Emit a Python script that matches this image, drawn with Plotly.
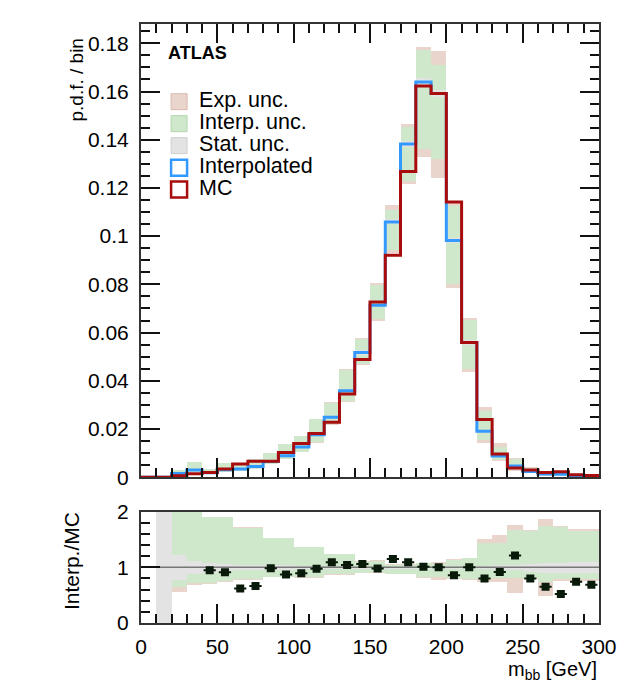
import plotly.graph_objects as go

# ---------------- data ----------------
bin_edges = list(range(0, 310, 10))
bin_centers = [e + 5 for e in bin_edges[:-1]]

mc = [0, 0, 0.0006, 0.0014, 0.0019, 0.0034, 0.0055, 0.0066, 0.0066, 0.0102,
      0.0140, 0.0181, 0.0228, 0.0345, 0.0488, 0.0727, 0.0921, 0.1268, 0.1623, 0.1592,
      0.1142, 0.0559, 0.0239, 0.0096, 0.0038, 0.0030, 0.0020, 0.0023, 0.0010, 0.0007]
interp = [0, 0, 0.0015, 0.0030, 0.0018, 0.0031, 0.0034, 0.0044, 0.0065, 0.0089,
          0.0125, 0.0176, 0.0249, 0.0359, 0.0517, 0.0713, 0.1059, 0.1382, 0.1639, 0.1592,
          0.0982, 0.0559, 0.0191, 0.0088, 0.0046, 0.0024, 0.0013, 0.0012, 0.00074, 0.00048]

# relative uncertainty bands (ratio to nominal)
interp_unc_lo = [None, None, 0.66, 0.72, 0.72, 0.76, 0.79, 0.79, 0.84, 0.84,
                 0.83, 0.83, 0.88, 0.88, 0.91, 0.92, 0.89, 0.89, 0.83, 0.83,
                 0.815, 0.80, 0.80, 0.82, 0.82, 0.82, 0.75, 0.79, 0.79, 0.79]
interp_unc_hi = [None, None, 2.1, 2.05, 1.91, 1.91, 1.72, 1.72, 1.53, 1.53,
                 1.37, 1.37, 1.24, 1.24, 1.11, 1.12, 1.045, 1.05, 1.08, 1.075,
                 1.145, 1.17, 1.44, 1.44, 1.68, 1.65, 1.74, 1.73, 1.65, 1.65]
exp_unc_lo = [None, None, 0.57, 0.69, 0.70, 0.75, 0.78, 0.78, 0.83, 0.83,
              0.82, 0.81, 0.87, 0.87, 0.90, 0.91, 0.88, 0.88, 0.81, 0.78,
              0.80, 0.78, 0.75, 0.75, 0.54, 0.79, 0.50, 0.76, 0.76, 0.76]
exp_unc_hi = [None, None, 2.1, 2.05, 1.91, 1.91, 1.73, 1.73, 1.54, 1.54,
              1.38, 1.38, 1.25, 1.25, 1.12, 1.13, 1.067, 1.06, 1.09, 1.11,
              1.16, 1.18, 1.52, 1.59, 1.76, 1.68, 1.87, 1.74, 1.69, 1.69]
stat_unc = [None, 1.5, 0.22, 0.12, 0.09, 0.06, 0.05, 0.05, 0.04, 0.04,
            0.03, 0.03, 0.02, 0.02, 0.02, 0.01, 0.01, 0.01, 0.01, 0.01,
            0.01, 0.02, 0.03, 0.04, 0.05, 0.07, 0.09, 0.09, 0.10, 0.10]

legend_names = ["Exp. unc.", "Interp. unc.", "Stat. unc.", "Interpolated", "MC"]

# ---------------- styles ----------------
FONT = "Liberation Sans"
C_EXP = "#ead5cd"
C_INT = "#cfe7cb"
C_STAT = "#e3e3e3"
C_BLUE = "#3399ff"
C_RED = "#a80c0c"
C_PT = "#0a1a0a"
BIN_W = 10


def band(nom, lo, hi):
    base, height = [], []
    for n, l, h in zip(nom, lo, hi):
        if l is None or h is None:
            base.append(None); height.append(None)
        else:
            base.append(n * l); height.append(n * (h - l))
    return base, height


def stat_band(nom, s):
    lo = [None if v is None else 1 - v for v in s]
    hi = [None if v is None else 1 + v for v in s]
    return band(nom, lo, hi)


def lname(t):
    return '<span style="font-size:21.5px">' + t + '</span>'


ones = [1.0] * len(bin_centers)
fig = go.Figure()

# ---- top panel bands ----
for (lo, hi, col) in [(exp_unc_lo, exp_unc_hi, C_EXP), (interp_unc_lo, interp_unc_hi, C_INT)]:
    b, h = band(interp, lo, hi)
    fig.add_trace(go.Bar(x=bin_centers, y=h, base=b, width=BIN_W, showlegend=False,
                         marker=dict(color=col, line=dict(width=0)), xaxis="x", yaxis="y"))
b, h = stat_band(interp, stat_unc)
fig.add_trace(go.Bar(x=bin_centers, y=h, base=b, width=BIN_W, showlegend=False,
                     marker=dict(color=C_STAT, line=dict(width=0)), xaxis="x", yaxis="y"))

# ---- histograms (step lines) ----
fig.add_trace(go.Scatter(x=bin_edges, y=interp + [interp[-1]], mode="lines", line_shape="hv",
                         line=dict(color=C_BLUE, width=3), showlegend=False,
                         xaxis="x", yaxis="y"))
fig.add_trace(go.Scatter(x=bin_edges, y=mc + [mc[-1]], mode="lines", line_shape="hv",
                         line=dict(color=C_RED, width=3), showlegend=False,
                         xaxis="x", yaxis="y"))

# ---- legend entries (box style) ----
legend_styles = [
    dict(color=C_EXP, line=dict(color="#d9b9ad", width=1)),
    dict(color=C_INT, line=dict(color="#b3d6ae", width=1)),
    dict(color=C_STAT, line=dict(color="#cfcfcf", width=1)),
    dict(color="white", line=dict(color=C_BLUE, width=2.5)),
    dict(color="white", line=dict(color=C_RED, width=2.5)),
]
for k, (nm, st) in enumerate(zip(legend_names, legend_styles)):
    fig.add_trace(go.Scatter(x=[None], y=[None], mode="markers", name=lname(nm),
                             marker=dict(symbol="square", size=16, **st),
                             legendrank=k + 1, xaxis="x", yaxis="y"))

# ---- ratio panel ----
b, h = band(ones, exp_unc_lo, exp_unc_hi)
fig.add_trace(go.Bar(x=bin_centers, y=h, base=b, width=BIN_W, showlegend=False,
                     marker=dict(color=C_EXP, line=dict(width=0)), xaxis="x2", yaxis="y2"))
b, h = band(ones, interp_unc_lo, interp_unc_hi)
fig.add_trace(go.Bar(x=bin_centers, y=h, base=b, width=BIN_W, showlegend=False,
                     marker=dict(color=C_INT, line=dict(width=0)), xaxis="x2", yaxis="y2"))
b, h = stat_band(ones, stat_unc)
fig.add_trace(go.Bar(x=bin_centers, y=h, base=b, width=BIN_W, showlegend=False,
                     marker=dict(color=C_STAT, line=dict(width=0)), xaxis="x2", yaxis="y2"))

fig.add_trace(go.Scatter(x=[bin_edges[0], bin_edges[-1]], y=[1, 1], mode="lines",
                         line=dict(color="#777777", width=1.5), showlegend=False,
                         xaxis="x2", yaxis="y2"))

ratio = [i / m if m > 0 else None for i, m in zip(interp, mc)]
fig.add_trace(go.Scatter(x=bin_centers, y=ratio, mode="markers",
                         marker=dict(symbol="square", size=8, color=C_PT),
                         error_x=dict(type="constant", value=4, thickness=2, width=0, color=C_PT),
                         showlegend=False, xaxis="x2", yaxis="y2"))

# ---------------- layout ----------------
TOP_DOM = [0.2434, 1.0]
BOT_DOM = [0.0, 0.1859]
tickfont = dict(family=FONT, size=21, color="black")
common_x = dict(range=[0, 300], dtick=50, tick0=0, ticks="inside", ticklen=19, tickwidth=1.5,
                tickcolor="#111", showline=True, linecolor="#333", linewidth=2,
                showgrid=False, zeroline=False,
                minor=dict(dtick=10, ticklen=9, ticks="inside", tickcolor="#111", tickwidth=1.5))

fig.update_layout(
    width=629, height=688,
    margin=dict(l=141, r=20, t=15, b=65),
    paper_bgcolor="white", plot_bgcolor="white",
    barmode="overlay", bargap=0,
    font=dict(family=FONT, color="black"),
    xaxis=dict(**common_x, domain=[0, 1], anchor="y", showticklabels=False, mirror="allticks"),
    yaxis=dict(domain=TOP_DOM, anchor="x", range=[0, 0.188], dtick=0.02, tick0=0,
               ticks="inside", ticklen=19, tickwidth=1.5, tickcolor="#111",
               showline=True, linecolor="#333", linewidth=2, mirror="allticks",
               showgrid=False, zeroline=False, tickfont=tickfont, ticklabelstandoff=6,
               minor=dict(dtick=0.005, ticklen=9, ticks="inside", tickcolor="#111", tickwidth=1.5)),
    xaxis2=dict(**common_x, domain=[0, 1], anchor="y2", matches="x", mirror=True,
                tickfont=tickfont, ticklabelstandoff=4),
    yaxis2=dict(domain=BOT_DOM, anchor="x2", range=[0, 2], dtick=1, tick0=0,
                ticks="inside", ticklen=19, tickwidth=1.5, tickcolor="#111",
                showline=True, linecolor="#333", linewidth=2, mirror=True,
                showgrid=False, zeroline=False, tickfont=tickfont, ticklabelstandoff=6,
                minor=dict(dtick=0.2, ticklen=9, ticks="inside", tickcolor="#111", tickwidth=1.5)),
    legend=dict(x=0.0395, y=0.897, xanchor="left", yanchor="top",
                bgcolor="rgba(0,0,0,0)", font=dict(family=FONT, size=14.6, color="black"),
                traceorder="normal", itemwidth=30, itemsizing="trace"),
    annotations=[
        dict(text="<b>ATLAS</b>", xref="paper", yref="paper", x=0.055, y=0.952,
             xanchor="left", yanchor="middle", showarrow=False,
             font=dict(family=FONT, size=18, color="black")),
        dict(text="p.d.f. / bin", xref="paper", yref="paper", x=-0.141, y=0.979,
             xanchor="center", yanchor="top", textangle=-90, showarrow=False,
             font=dict(family=FONT, size=19, color="black")),
        dict(text="Interp./MC", xref="paper", yref="paper", x=-0.152, y=0.104,
             xanchor="center", yanchor="middle", textangle=-90, showarrow=False,
             font=dict(family=FONT, size=21, color="black")),
        dict(text="m<sub>bb</sub> [GeV]", xref="paper", yref="paper", x=1.0, y=-0.08,
             xanchor="right", yanchor="middle", showarrow=False,
             font=dict(family=FONT, size=20, color="black")),
    ],
)

fig.write_html("out.html")
